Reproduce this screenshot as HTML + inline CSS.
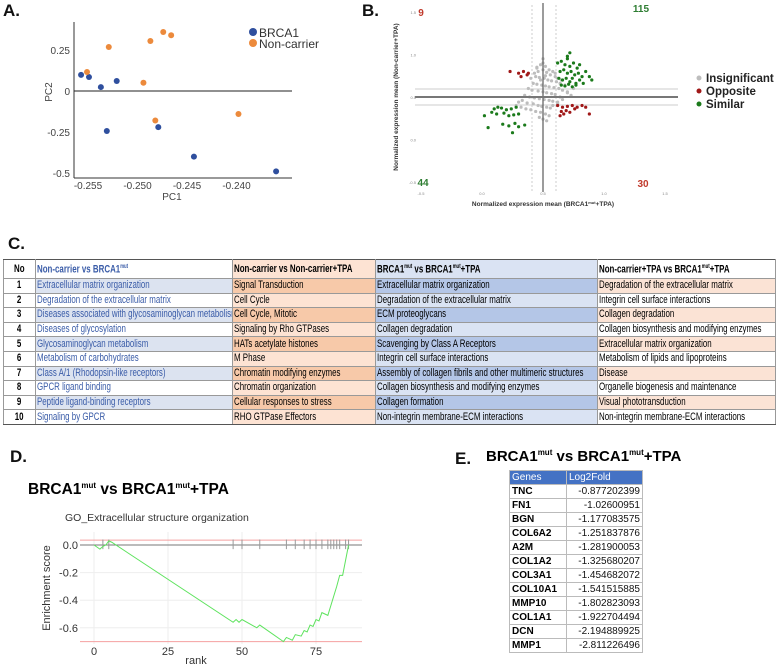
<!DOCTYPE html>
<html><head><meta charset="utf-8">
<style>
body{margin:0;width:778px;height:664px;background:#fff;position:relative;overflow:hidden;font-family:"Liberation Sans",sans-serif}
.lbl{position:absolute;font-weight:bold;font-size:17px;color:#111}
table{border-collapse:collapse;position:absolute}
#tc{left:3px;top:259px;width:772px;font-family:"Liberation Sans",sans-serif;font-size:11px;table-layout:fixed}
#tc td{border:1px solid #999;height:13.6px;padding:0 1px;white-space:nowrap;overflow:hidden;line-height:13px}
#tc td span{display:inline-block;transform:scaleX(0.72);transform-origin:0 50%}
#tc td:first-child{text-align:center;font-weight:bold}
#tc td:first-child span{transform-origin:50% 50%}
#tc tr:first-child td{font-weight:bold;height:18px;border-top:1.5px solid #555}
#tc tr:last-child td{border-bottom:1.5px solid #555}
.c1{color:#3a5ca8}
.b1{background:#dce3f0}.o2{background:#f7c9a9}.o2l{background:#fde3d3}.b3{background:#b4c6e7}.b3l{background:#dae3f3}.o4{background:#fbe3d5}
#te{left:509px;top:470px;width:134px;font-size:10px;font-weight:bold}
#te td{border:1px solid #bbb;height:13px;padding:0 2px;line-height:13px}
#te td:last-child{text-align:right;font-weight:normal;color:#111}
#te tr:first-child td{background:#4472c4;color:#fff;text-align:left;font-weight:normal}
sup{font-size:6px}
</style></head><body>
<div class="lbl" style="left:3px;top:1px">A.</div>
<div class="lbl" style="left:362px;top:1px">B.</div>
<div class="lbl" style="left:8px;top:234px">C.</div>
<div class="lbl" style="left:10px;top:447px">D.</div>
<div class="lbl" style="left:455px;top:449px">E.</div>
<div style="position:absolute;left:486px;top:448px;font-weight:bold;font-size:15px">BRCA1<sup style="font-size:8px">mut</sup> vs BRCA1<sup style="font-size:8px">mut</sup>+TPA</div>
<div style="position:absolute;left:28px;top:481px;font-weight:bold;font-size:15.5px">BRCA1<sup style="font-size:8px">mut</sup> vs BRCA1<sup style="font-size:8px">mut</sup>+TPA</div>

<table id="tc">
<colgroup><col style="width:32px"><col style="width:197px"><col style="width:143px"><col style="width:222px"><col style="width:178px"></colgroup>
<tr><td>No</td><td class="c1">Non-carrier vs BRCA1<sup>mut</sup></td><td class="o2l">Non-carrier vs Non-carrier+TPA</td><td class="b3l">BRCA1<sup>mut</sup> vs BRCA1<sup>mut</sup>+TPA</td><td>Non-carrier+TPA vs BRCA1<sup>mut</sup>+TPA</td></tr>
<tr><td>1</td><td class="c1 b1">Extracellular matrix organization</td><td class="o2">Signal Transduction</td><td class="b3">Extracellular matrix organization</td><td class="o4">Degradation of the extracellular matrix</td></tr>
<tr><td>2</td><td class="c1">Degradation of the extracellular matrix</td><td class="o2l">Cell Cycle</td><td class="b3l">Degradation of the extracellular matrix</td><td>Integrin cell surface interactions</td></tr>
<tr><td>3</td><td class="c1 b1">Diseases associated with glycosaminoglycan metabolism</td><td class="o2">Cell Cycle, Mitotic</td><td class="b3">ECM proteoglycans</td><td class="o4">Collagen degradation</td></tr>
<tr><td>4</td><td class="c1">Diseases of glycosylation</td><td class="o2l">Signaling by Rho GTPases</td><td class="b3l">Collagen degradation</td><td>Collagen biosynthesis and modifying enzymes</td></tr>
<tr><td>5</td><td class="c1 b1">Glycosaminoglycan metabolism</td><td class="o2">HATs acetylate histones</td><td class="b3">Scavenging by Class A Receptors</td><td class="o4">Extracellular matrix organization</td></tr>
<tr><td>6</td><td class="c1">Metabolism of carbohydrates</td><td class="o2l">M Phase</td><td class="b3l">Integrin cell surface interactions</td><td>Metabolism of lipids and lipoproteins</td></tr>
<tr><td>7</td><td class="c1 b1">Class A/1 (Rhodopsin-like receptors)</td><td class="o2">Chromatin modifying enzymes</td><td class="b3">Assembly of collagen fibrils and other multimeric structures</td><td class="o4">Disease</td></tr>
<tr><td>8</td><td class="c1">GPCR ligand binding</td><td class="o2l">Chromatin organization</td><td class="b3l">Collagen biosynthesis and modifying enzymes</td><td>Organelle biogenesis and maintenance</td></tr>
<tr><td>9</td><td class="c1 b1">Peptide ligand-binding receptors</td><td class="o2">Cellular responses to stress</td><td class="b3">Collagen formation</td><td class="o4">Visual phototransduction</td></tr>
<tr><td>10</td><td class="c1">Signaling by GPCR</td><td class="o2l">RHO GTPase Effectors</td><td class="b3l">Non-integrin membrane-ECM interactions</td><td>Non-integrin membrane-ECM interactions</td></tr>
</table>

<table id="te">
<tr><td>Genes</td><td style="text-align:left;color:#fff">Log2Fold</td></tr>
<tr><td>TNC</td><td>-0.877202399</td></tr>
<tr><td>FN1</td><td>-1.02600951</td></tr>
<tr><td>BGN</td><td>-1.177083575</td></tr>
<tr><td>COL6A2</td><td>-1.251837876</td></tr>
<tr><td>A2M</td><td>-1.281900053</td></tr>
<tr><td>COL1A2</td><td>-1.325680207</td></tr>
<tr><td>COL3A1</td><td>-1.454682072</td></tr>
<tr><td>COL10A1</td><td>-1.541515885</td></tr>
<tr><td>MMP10</td><td>-1.802823093</td></tr>
<tr><td>COL1A1</td><td>-1.922704494</td></tr>
<tr><td>DCN</td><td>-2.194889925</td></tr>
<tr><td>MMP1</td><td>-2.811226496</td></tr>
</table>

<svg id="svg" width="778" height="664" style="position:absolute;left:0;top:0" xmlns="http://www.w3.org/2000/svg" font-family="Liberation Sans, sans-serif"></svg>
<script>
// Panel A data
const pcaBlueX=[-0.2557,-0.2549,-0.2537,-0.2521,-0.2531,-0.2479,-0.2443,-0.2360];
const pcaBlueY=[0.098,0.085,0.024,0.061,-0.244,-0.22,-0.40,-0.49];
const pcaOrangeX=[-0.2551,-0.2529,-0.2487,-0.2474,-0.2466,-0.2494,-0.2482,-0.2398];
const pcaOrangeY=[0.116,0.268,0.305,0.36,0.34,0.05,-0.18,-0.14];
const pcaXTicks=[-0.255,-0.250,-0.245,-0.240];
const pcaYTicks=[0.25,0,-0.25,-0.5];
const pcaYTickLabels=["0.25","0","-0.25","-0.5"];
// Panel B data
const grayX=[0.45,0.48,0.5,0.52,0.55,0.58,0.6,0.43,0.46,0.5,0.53,0.56,0.6,0.62,0.65,0.4,0.44,0.47,0.51,0.54,0.57,0.61,0.64,0.68,0.42,0.45,0.49,0.52,0.55,0.59,0.63,0.66,0.7,0.38,0.41,0.46,0.5,0.53,0.57,0.6,0.64,0.35,0.39,0.43,0.47,0.51,0.55,0.58,0.62,0.33,0.37,0.42,0.46,0.49,0.53,0.56,0.4,0.44,0.48,0.52,0.55,0.47,0.5,0.53,0.7,0.73,0.75,0.3,0.32,0.28,0.36,0.58,0.62,0.66,0.5,0.48,0.52,0.45];
const grayY=[0.85,0.88,0.9,0.86,0.82,0.8,0.78,0.78,0.8,0.82,0.79,0.76,0.74,0.72,0.7,0.72,0.74,0.73,0.72,0.7,0.69,0.68,0.66,0.64,0.66,0.65,0.64,0.63,0.62,0.61,0.6,0.58,0.56,0.6,0.58,0.57,0.56,0.55,0.54,0.53,0.5,0.52,0.5,0.49,0.48,0.47,0.46,0.45,0.44,0.46,0.43,0.42,0.4,0.39,0.38,0.37,0.35,0.33,0.32,0.3,0.28,0.26,0.24,0.22,0.55,0.52,0.6,0.44,0.38,0.4,0.36,0.4,0.42,0.47,0.95,0.7,0.75,0.84];
const greenX=[0.62,0.65,0.68,0.7,0.72,0.75,0.78,0.8,0.64,0.67,0.7,0.73,0.76,0.79,0.82,0.85,0.63,0.66,0.69,0.72,0.74,0.77,0.8,0.83,0.65,0.68,0.71,0.74,0.77,0.7,0.72,0.88,0.9,0.1,0.13,0.16,0.2,0.24,0.28,0.08,0.12,0.18,0.22,0.26,0.3,0.02,0.17,0.22,0.27,0.3,0.05,0.25,0.35];
const greenY=[0.9,0.92,0.88,0.95,0.86,0.9,0.84,0.88,0.8,0.82,0.78,0.8,0.76,0.78,0.74,0.8,0.72,0.7,0.72,0.68,0.72,0.66,0.7,0.66,0.64,0.63,0.65,0.62,0.64,0.98,1.02,0.74,0.7,0.36,0.38,0.37,0.35,0.36,0.38,0.32,0.3,0.31,0.28,0.29,0.3,0.28,0.18,0.16,0.19,0.15,0.14,0.08,0.17];
const redX=[0.23,0.3,0.34,0.38,0.37,0.32,0.62,0.66,0.7,0.74,0.78,0.65,0.69,0.72,0.82,0.85,0.88,0.64,0.67,0.76];
const redY=[0.8,0.78,0.8,0.78,0.76,0.74,0.4,0.38,0.39,0.4,0.38,0.33,0.34,0.32,0.4,0.38,0.3,0.28,0.3,0.36];
const bTicks=[-0.5,0,0.5,1,1.5];
const bTickLabels=["-0.5","0.0","0.5","1.0","1.5"];
const quadCounts=["9","115","44","30"];
// Panel D data
const esRank=[0,2,3,4,5,6,47,48,49,50,55,56,64,65,66,67,68,70,71,72,73,74,75,76,77,79,82,83,84,86];
const esScore=[0,-0.03,-0.01,0,0.03,0.02,-0.56,-0.54,-0.56,-0.54,-0.6,-0.58,-0.7,-0.67,-0.68,-0.69,-0.65,-0.66,-0.62,-0.63,-0.58,-0.59,-0.54,-0.55,-0.49,-0.51,-0.3,-0.22,-0.22,0];
const hitRanks=[3,5,47,50,56,65,68,71,73,75,77,79,80,81,82,83,85,86];
const esXTicks=[0,25,50,75];
const esYTicks=[0,-0.2,-0.4,-0.6];
const esYTickLabels=["0.0","-0.2","-0.4","-0.6"];

// condense table cell text
document.querySelectorAll('#tc td').forEach(td=>{const s=document.createElement('span');s.innerHTML=td.innerHTML;td.innerHTML='';td.appendChild(s);});

const svg=document.getElementById('svg');
const NS='http://www.w3.org/2000/svg';
function mk(tag,attrs,parent){const e=document.createElementNS(NS,tag);for(const k in attrs)e.setAttribute(k,attrs[k]);(parent||svg).appendChild(e);return e;}
function txt(x,y,s,size,fill,anchor,extra){const t=mk('text',Object.assign({x:x,y:y,'font-size':size,fill:fill||'#333','text-anchor':anchor||'start'},extra||{}));t.textContent=s;return t;}

// ---- Panel A ----
const ax=v=>88+(v+0.255)/0.005*49.5;
const ay=v=>91-v/0.25*41;
let e;
e=mk('line',{x1:74,y1:22,x2:74,y2:178,stroke:'#333','stroke-width':1});


e=mk('line',{x1:74,y1:178,x2:292,y2:178,stroke:'#333','stroke-width':1});


e=mk('line',{x1:74,y1:ay(0),x2:292,y2:ay(0),stroke:'#222','stroke-width':1});


pcaXTicks.forEach(v=>{e=txt(ax(v),189,v.toFixed(3),10,'#444','middle');

});
pcaYTicks.forEach((v,i)=>{e=txt(70,ay(v)+4,pcaYTickLabels[i],10,'#444','end');

});
e=txt(172,200,'PC1',10,'#444','middle');


e=txt(52,92,'PC2',10,'#444','middle',{transform:'rotate(-90 52 92)'});


pcaBlueX.forEach((v,i)=>{e=mk('circle',{cx:ax(v),cy:ay(pcaBlueY[i]),r:3,fill:'#2f4f9e'});

});
pcaOrangeX.forEach((v,i)=>{e=mk('circle',{cx:ax(v),cy:ay(pcaOrangeY[i]),r:3,fill:'#ec8a3c'});

});
e=mk('circle',{cx:253,cy:32,r:4,fill:'#2f4f9e'});


e=txt(259,37,'BRCA1',12,'#333');


e=mk('circle',{cx:253,cy:43,r:4,fill:'#ec8a3c'});


e=txt(259,48,'Non-carrier',12,'#333');



// ---- Panel B ----
const bx=v=>543+(v-0.5)*122;
const by=v=>97-(v-0.5)*85;
e=mk('line',{x1:532,y1:5,x2:532,y2:192,stroke:'#ccc','stroke-dasharray':'2,2'});


e=mk('line',{x1:556,y1:5,x2:556,y2:192,stroke:'#ccc','stroke-dasharray':'2,2'});


e=mk('line',{x1:415,y1:89,x2:678,y2:89,stroke:'#ccc'});


e=mk('line',{x1:415,y1:105,x2:678,y2:105,stroke:'#ccc'});


grayX.forEach((v,i)=>{e=mk('circle',{cx:bx(v),cy:by(grayY[i]),r:1.6,fill:'#bdbdbd'});

});
greenX.forEach((v,i)=>{e=mk('circle',{cx:bx(v),cy:by(greenY[i]),r:1.6,fill:'#1b7a1b'});

});
redX.forEach((v,i)=>{e=mk('circle',{cx:bx(v),cy:by(redY[i]),r:1.6,fill:'#a01818'});

});
e=mk('line',{x1:543,y1:3,x2:543,y2:192,stroke:'#666','stroke-width':1.3});


e=mk('line',{x1:415,y1:97,x2:678,y2:97,stroke:'#777','stroke-width':2});


bTicks.forEach((v,i)=>{e=txt(bx(v),195,bTickLabels[i],4,'#888','middle');


e=txt(416,by(v)+2,bTickLabels[i],4,'#888','end');

});
e=txt(421,16,quadCounts[0],10,'#c0392b','middle',{'font-weight':'bold'});


e=txt(641,12,quadCounts[1],10,'#2e7d32','middle',{'font-weight':'bold'});


e=txt(423,186,quadCounts[2],10,'#2e7d32','middle',{'font-weight':'bold'});


e=txt(643,187,quadCounts[3],10,'#c0392b','middle',{'font-weight':'bold'});


e=txt(543,206,'',6.5,'#333','middle',{'font-weight':'bold'});
const ts1=mk('tspan',{},e);ts1.textContent='Normalized expression mean (BRCA1';
const ts2=mk('tspan',{'font-size':4,dy:-2},e);ts2.textContent='mut';
const ts3=mk('tspan',{dy:2},e);ts3.textContent='+TPA)';


e=txt(398,97,'Normalized expression mean (Non-carrier+TPA)',6.5,'#333','middle',{'font-weight':'bold',transform:'rotate(-90 398 97)'});


[['#bdbdbd','Insignificant',78],['#a01818','Opposite',91],['#1b7a1b','Similar',104]].forEach(l=>{
e=mk('circle',{cx:699,cy:l[2],r:2.5,fill:l[0]});


e=txt(706,l[2]+4,l[1],11.5,'#222','start',{'font-weight':'bold'});

});

// ---- Panel D ----
const dx=v=>94+v/25*74;
const dy=v=>545-v/0.2*27.6;
esXTicks.forEach(v=>{e=mk('line',{x1:dx(v),y1:532,x2:dx(v),y2:644,stroke:'#eee'});


e=txt(dx(v),655,String(v),11,'#333','middle');

});
esYTicks.forEach((v,i)=>{e=mk('line',{x1:80,y1:dy(v),x2:362,y2:dy(v),stroke:'#eee'});


e=txt(78,dy(v)+4,esYTickLabels[i],11,'#333','end');

});
e=mk('line',{x1:80,y1:dy(0),x2:362,y2:dy(0),stroke:'#777'});


e=mk('line',{x1:80,y1:dy(0.035),x2:362,y2:dy(0.035),stroke:'#f4a0a0'});


e=mk('line',{x1:80,y1:dy(-0.7),x2:362,y2:dy(-0.7),stroke:'#f4a0a0'});


hitRanks.forEach(r=>{e=mk('line',{x1:dx(r),y1:dy(0.04),x2:dx(r),y2:dy(-0.03),stroke:'#999'});

});
e=mk('polyline',{points:esRank.map((r,i)=>dx(r)+','+dy(esScore[i])).join(' '),fill:'none',stroke:'#5ee35e','stroke-width':1});


e=txt(65,521,'GO_Extracellular structure organization',10.5,'#333');


e=txt(196,664,'rank',11,'#333','middle');


e=txt(50,588,'Enrichment score',11,'#333','middle',{transform:'rotate(-90 50 588)'});


</script>
</body></html>
